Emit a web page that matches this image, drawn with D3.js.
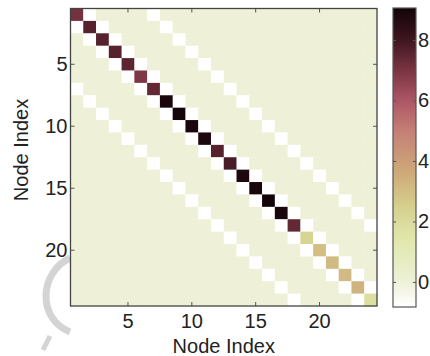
<!DOCTYPE html>
<html>
<head>
<meta charset="utf-8">
<script src="https://cdn.jsdelivr.net/npm/d3@7"></script>
<style>
  html, body { margin: 0; padding: 0; background: #fff; }
  svg { display: block; font-family: "Liberation Sans", Arial, sans-serif; }
</style>
</head>
<body>
<svg id="chart" width="430" height="356"></svg>
<script>
// node indices 1..24
const nodes = d3.range(1, 25);
// diagonal (self) values
const diagValues = [7.1, 7.6, 7.6, 7.6, 7.5, 6.9, 7.4, 8.9, 9.0, 8.9, 8.8, 7.6,
                    7.8, 8.8, 8.9, 9.0, 8.9, 7.4, 2.3, 3.0, 3.1, 3.1, 3.3, 1.8];
// off-diagonal bands (|i-j| = offset) holding the minimum value
const bandOffsets = [1, 6];
const bandValue = -0.83;
const offValue = 0;
// colour bar
const cbDomain = [-0.83, 9.06];
const cbTicks = [0, 2, 4, 6, 8];
const axisTicks = [5, 10, 15, 20];

const cells = [];
nodes.forEach((r, i) => nodes.forEach((c, j) => {
  let v = offValue;
  if (i === j) v = diagValues[i];
  else if (bandOffsets.includes(Math.abs(i - j))) v = bandValue;
  cells.push({ r, c, v });
}));

const color = d3.scaleLinear()
  .domain([-0.83, 0, 1.5, 2.5, 3.5, 5, 6, 7, 8, 9.06])
  .range(['#ffffff', '#eef1d8', '#dfe6a8', '#d6cf8e', '#cfad7a', '#c47f76',
          '#ad5666', '#7a3442', '#3e1620', '#120408'])
  .clamp(true);

const svg = d3.select('#chart');
const fontSize = 20;

const x = d3.scaleBand().domain(nodes).range([70.5, 377]);
const y = d3.scaleBand().domain(nodes).range([8.5, 306]);

// faint watermark strokes seen in the source picture
svg.append('path')
  .attr('d', 'M70,258 C40,272 36,318 70,332')
  .attr('fill', 'none').attr('stroke', '#d4d4d4').attr('stroke-width', 7);
svg.append('path')
  .attr('d', 'M50,336 L43,350')
  .attr('fill', 'none').attr('stroke', '#d4d4d4').attr('stroke-width', 5);

// cells
svg.append('g')
  .selectAll('rect')
  .data(cells)
  .join('rect')
  .attr('x', d => x(d.c))
  .attr('y', d => y(d.r))
  .attr('width', x.bandwidth() + 0.4)
  .attr('height', y.bandwidth() + 0.4)
  .attr('fill', d => color(d.v));

// axes, ticks pointing inward like matlab
function styleAxis(g) {
  g.select('.domain').remove();
  g.selectAll('line').attr('stroke', '#555').attr('stroke-width', 1);
  g.selectAll('text').attr('font-size', fontSize).attr('fill', '#222')
    .attr('font-family', '"Liberation Sans", Arial, sans-serif');
}

svg.append('g')
  .attr('transform', 'translate(0,306)')
  .call(d3.axisBottom(x).tickValues(axisTicks).tickSize(-4).tickPadding(8))
  .call(styleAxis);
svg.append('g')
  .attr('transform', 'translate(0,8.5)')
  .call(d3.axisTop(x).tickValues(axisTicks).tickSize(-4).tickFormat(''))
  .call(styleAxis);
svg.append('g')
  .attr('transform', 'translate(70.5,0)')
  .call(d3.axisLeft(y).tickValues(axisTicks).tickSize(-4).tickPadding(3))
  .call(styleAxis);
svg.append('g')
  .attr('transform', 'translate(377,0)')
  .call(d3.axisRight(y).tickValues(axisTicks).tickSize(-4).tickFormat(''))
  .call(styleAxis);

svg.append('rect')
  .attr('x', 70.5).attr('y', 8.5)
  .attr('width', 377 - 70.5).attr('height', 306 - 8.5)
  .attr('fill', 'none').attr('stroke', '#444').attr('stroke-width', 1.3);

svg.append('text')
  .attr('x', (70.5 + 377) / 2).attr('y', 353)
  .attr('text-anchor', 'middle').attr('font-size', fontSize).attr('fill', '#222')
  .text('Node Index');
svg.append('text')
  .attr('transform', 'translate(28,150) rotate(-90)')
  .attr('text-anchor', 'middle').attr('font-size', fontSize).attr('fill', '#222')
  .text('Node Index');

// colour bar
const cbX = 393, cbW = 23;
const cbY = d3.scaleLinear().domain(cbDomain).range([307, 8]);
const defs = svg.append('defs');
const grad = defs.append('linearGradient').attr('id', 'cbgrad')
  .attr('x1', 0).attr('y1', 1).attr('x2', 0).attr('y2', 0);
const stops = d3.range(0, 1.0001, 0.02);
grad.selectAll('stop').data(stops).join('stop')
  .attr('offset', t => t)
  .attr('stop-color', t => color(cbDomain[0] + t * (cbDomain[1] - cbDomain[0])));

svg.append('rect')
  .attr('x', cbX).attr('y', cbY(cbDomain[1]))
  .attr('width', cbW).attr('height', cbY(cbDomain[0]) - cbY(cbDomain[1]))
  .attr('fill', 'url(#cbgrad)');

svg.append('g')
  .attr('transform', `translate(${cbX + cbW},0)`)
  .call(d3.axisRight(cbY).tickValues(cbTicks).tickSize(-3).tickPadding(2))
  .call(styleAxis);
svg.append('g')
  .attr('transform', `translate(${cbX},0)`)
  .call(d3.axisLeft(cbY).tickValues(cbTicks).tickSize(-3).tickFormat(''))
  .call(styleAxis);

svg.append('rect')
  .attr('x', cbX).attr('y', cbY(cbDomain[1]))
  .attr('width', cbW).attr('height', cbY(cbDomain[0]) - cbY(cbDomain[1]))
  .attr('fill', 'none').attr('stroke', '#555').attr('stroke-width', 1.2);
</script>
</body>
</html>
